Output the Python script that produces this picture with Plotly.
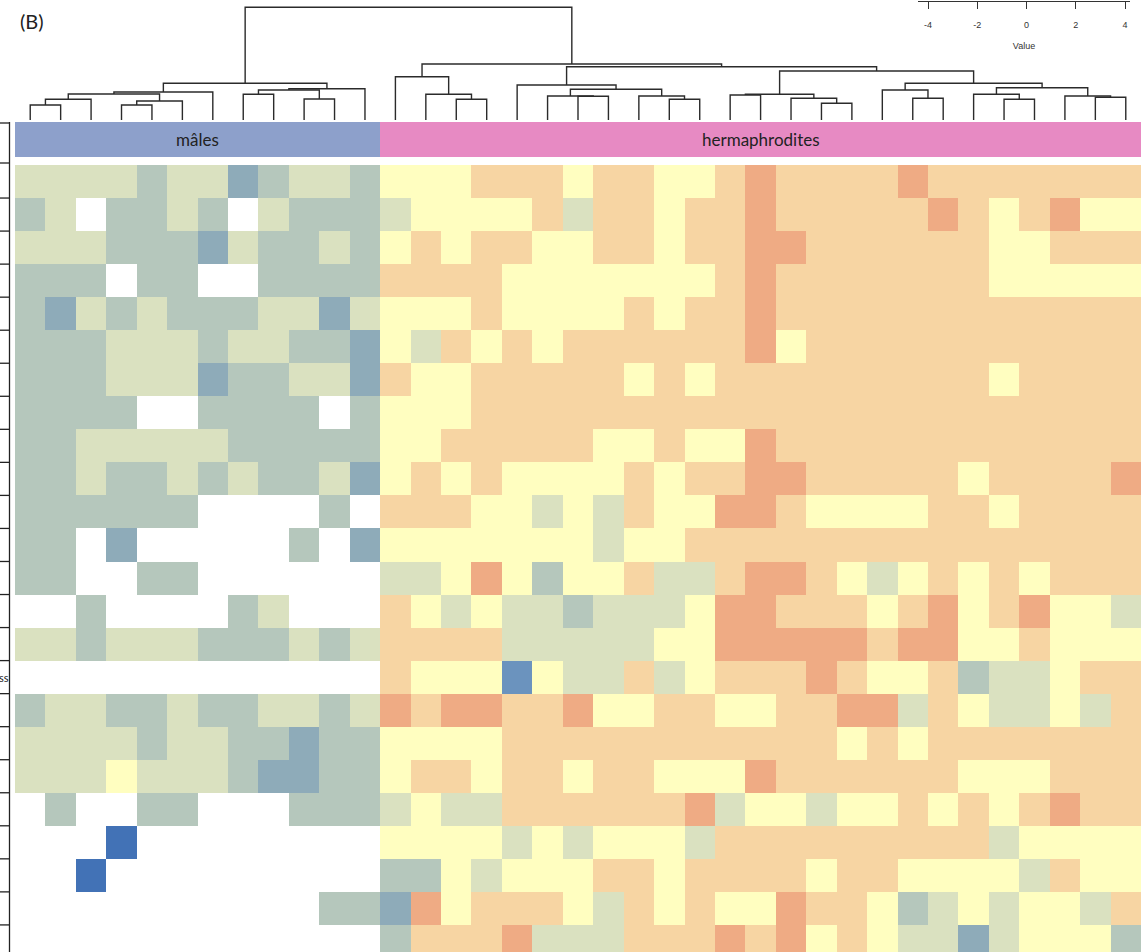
import plotly.graph_objects as go

W, H = 1146, 952

# heatmap cells, one letter per cell (W = empty cell), rows top to bottom
males_rows = [
    "SSSSGSSTGSSG",
    "GSWGGSGWSGGG",
    "SSSGGGTSGGSG",
    "GGGWGGWWGGGG",
    "GTSGSGGGSSTS",
    "GGGSSSGSSGGT",
    "GGGSSSTGGSST",
    "GGGGWWGGGGWG",
    "GGSSSSSGGGGG",
    "GGSGGSGSGGST",
    "GGGGGGWWWWGW",
    "GGWTWWWWWGWT",
    "GGWWGGWWWWWW",
    "WWGWWWWGSWWW",
    "SSGSSSGGGSGS",
    "WWWWWWWWWWWW",
    "GSSGGSGGSSGS",
    "SSSSGSSGGTGG",
    "SSSYSSSGTTGG",
    "WGWWGGWWWGGG",
    "WWWDWWWWWWWW",
    "WWDWWWWWWWWW",
    "WWWWWWWWWWGG",
    "WWWWWWWWWWWW",
]
herm_rows = [
    "YYYPPPYPPYYPOPPPPOPPPPPPP",
    "SYYYYPSPPYPPOPPPPPOPYPOYY",
    "YPYPPYYPPYPPOOPPPPPPYYPPP",
    "PPPPYYYYYYYPOPPPPPPPYYYYY",
    "YYYPYYYYPYPPOPPPPPPPPPPPP",
    "YSPYPYPPPPPPOYPPPPPPPPPPP",
    "PYYPPPPPYPYPPPPPPPPPYPPPP",
    "YYYPPPPPPPPPPPPPPPPPPPPPP",
    "YYPPPPPYYPYYOPPPPPPPPPPPP",
    "YPYPYYYYPYPPOOPPPPPYPPPPO",
    "PPPYYSYSPYYOOPYYYYPPYPPPP",
    "YYYYYYYSYYPPPPPPPPPPPPPPP",
    "SSYOYGYYPSSPOOPYSYPYPYPPP",
    "PYSYSSGSSSYOOPPPYPOYPOYYS",
    "PPPPSSSSSYYOOOOOPOOYYPYYY",
    "PYYYMYSSPSYPPPOPYYPGSSYPP",
    "OPOOPPOYYPPYYPPOOSPYSSYSP",
    "YYYYPPPPPPPPPPPYPYPPPPPPP",
    "YPPYPPYPPYYYOPPPPPPYYYPPP",
    "SYSSPPPPPPOSYYSYYPYPYPOPP",
    "YYYYSYSYYYSPPPPPPPPPSYYYY",
    "GGYSYYYPPYPPPPYPPYYYYSPYY",
    "TOYPPPYSPYPYYOPPYGSYSYYSP",
    "GPPPOSSSPPPOPOYPYSSTSYYYG",
]

level_codes = ["D", "M", "T", "G", "S", "Y", "P", "O"]
level_values = [-4, -3, -2, -1, 0, 1, 2, 3]
level_colors = ["#4272b6", "#6b93be", "#8eabb9", "#b5c7bc",
                "#dae1c0", "#fffec0", "#f7d5a3", "#efab84"]

group_names = ["mâles", "hermaphrodites"]
group_sizes = [12, 25]
group_colors = ["#8da0cb", "#e78ac3"]

# column dendrogram: (left, right, merge height), leaves are column numbers
male_tree = (((((0, 1, 15.0), 2, 20.7), ((3, 4, 15.0), 5, 19.0), 26.0), 6, 28.0),
             (((7, 8, 25.7), (9, 10, 21.0), 30.0), 11, 31.3), 36.7)
herm_a = (12, (13, (14, 15, 20.7), 25.7), 43.3)
herm_b = (16, ((17, (18, 19, 23.7), 24.0), (20, (21, 22, 20.7), 24.0), 30.7), 35.0)
herm_c = ((23, 24, 25.0), (25, (26, 27, 16.7), 21.7), 25.7)
herm_d = ((28, (29, 30, 21.7), 30.0),
          ((31, (32, 33, 20.7), 25.7), (34, (35, 36, 22.7), 24.0), 32.3), 36.7)
herm_tree = (herm_a, (herm_b, (herm_c, herm_d, 49.0), 53.3), 56.0)
root_height = 112.7

key_ticks = [-4, -2, 0, 2, 4]
key_labels = ["-4", "-2", "0", "2", "4"]

# ---- build traces
value_of = dict(zip(level_codes, level_values))
z = [[value_of.get(c) for c in m + h] for m, h in zip(males_rows, herm_rows)]
n_cols = len(males_rows[0]) + len(herm_rows[0])
cols = list(range(n_cols))

nlev = len(level_colors)
cscale = []
for i, c in enumerate(level_colors):
    cscale += [[i / nlev, c], [(i + 1) / nlev, c]]

fig = go.Figure()
fig.add_trace(go.Heatmap(
    z=z, x=cols, y=list(range(len(z))),
    colorscale=cscale, zmin=level_values[0] - 0.5, zmax=level_values[-1] + 0.5,
    showscale=False, hoverongaps=False,
))

group_z = []
for gi, size in enumerate(group_sizes):
    group_z += [gi] * size
fig.add_trace(go.Heatmap(
    z=[group_z], x=cols, y=[0], yaxis="y2",
    colorscale=[[0, group_colors[0]], [0.5, group_colors[0]],
                [0.5, group_colors[1]], [1, group_colors[1]]],
    zmin=0, zmax=1, showscale=False,
))

dx, dy = [], []


def walk(node):
    if isinstance(node, int):
        return node, 0.0
    left, right, h = node
    xl, hl = walk(left)
    xr, hr = walk(right)
    dx.extend([xl, xl, xr, xr, None])
    dy.extend([hl, h, h, hr, None])
    return (xl + xr) / 2, h


walk((male_tree, herm_tree, root_height))
fig.add_trace(go.Scatter(x=dx, y=dy, yaxis="y3", mode="lines",
                         line=dict(color="#2b2b2b", width=1.4),
                         hoverinfo="skip", showlegend=False))

fig.add_trace(go.Scatter(x=[key_ticks[0], key_ticks[-1]], y=[0, 0],
                         xaxis="x4", yaxis="y4", mode="markers",
                         marker=dict(opacity=0), hoverinfo="skip", showlegend=False))

# ---- annotations
start = 0
for name, size in zip(group_names, group_sizes):
    fig.add_annotation(x=start + (size - 1) / 2, y=0, xref="x", yref="y2",
                       text=name, showarrow=False,
                       font=dict(family="Lato, Open Sans, sans-serif", size=17, color="#222"))
    start += size

fig.add_annotation(x=18 / W, y=1 - 21 / H, xref="paper", yref="paper",
                   xanchor="left", yanchor="middle", text="(B)", showarrow=False,
                   font=dict(family="Lato, Open Sans, sans-serif", size=20, color="#222"))
fig.add_annotation(x=0, y=15, xref="paper", yref="y", xanchor="left",
                   text="ss", showarrow=False, xshift=-3,
                   font=dict(family="Lato, sans-serif", size=11, color="#222"))

# remnant of the row label frame on the left edge
line = dict(color="#222", width=1.3)
fig.add_shape(type="line", xref="paper", yref="paper", x0=9.5 / W, x1=9.5 / W,
              y0=0, y1=1 - 122 / H, line=line)
for yp in [123, 163]:
    fig.add_shape(type="line", xref="paper", yref="paper", x0=0, x1=9.5 / W,
                  y0=1 - yp / H, y1=1 - yp / H, line=line)
for b in range(1, len(z)):
    fig.add_shape(type="line", xref="paper", yref="y", x0=0, x1=9.5 / W,
                  y0=b - 0.5, y1=b - 0.5, line=line)

row_h = 33.04
key_font = dict(family="Liberation Sans Narrow, Liberation Sans, sans-serif",
                size=9, color="#333")
fig.update_layout(
    width=W, height=H, margin=dict(l=0, r=0, t=0, b=0, autoexpand=False),
    paper_bgcolor="white", plot_bgcolor="white", showlegend=False,
    xaxis=dict(domain=[15 / W, 1141 / W], range=[-0.5, n_cols - 0.5],
               visible=False, anchor="y"),
    yaxis=dict(domain=[0, 1 - 165 / H], range=[-0.5 + 787 / row_h, -0.5],
               visible=False, anchor="x"),
    yaxis2=dict(domain=[1 - 157 / H, 1 - 122 / H], range=[-0.5, 0.5],
                visible=False, anchor="x"),
    yaxis3=dict(domain=[1 - 120 / H, 1], range=[0, 120], visible=False, anchor="x"),
    xaxis4=dict(domain=[918 / W, 1130 / W], range=[-4.41, 4.2], anchor="free",
                position=1 - 1 / H, side="bottom", showline=True, linecolor="#333",
                linewidth=1, ticks="outside", ticklen=7, tickcolor="#333",
                tickvals=key_ticks, ticktext=key_labels, showgrid=False,
                zeroline=False, automargin=False, ticklabelstandoff=8,
                tickfont=key_font,
                title=dict(text="Value", standoff=13, font=key_font)),
    yaxis4=dict(domain=[0.95, 1], anchor="x4", visible=False),
)

# the page body has a default 8px margin; drop it so the figure sits at 0,0
fig.write_html("out.html", config={"displayModeBar": False},
               post_script="document.body.style.margin = '0px';")
